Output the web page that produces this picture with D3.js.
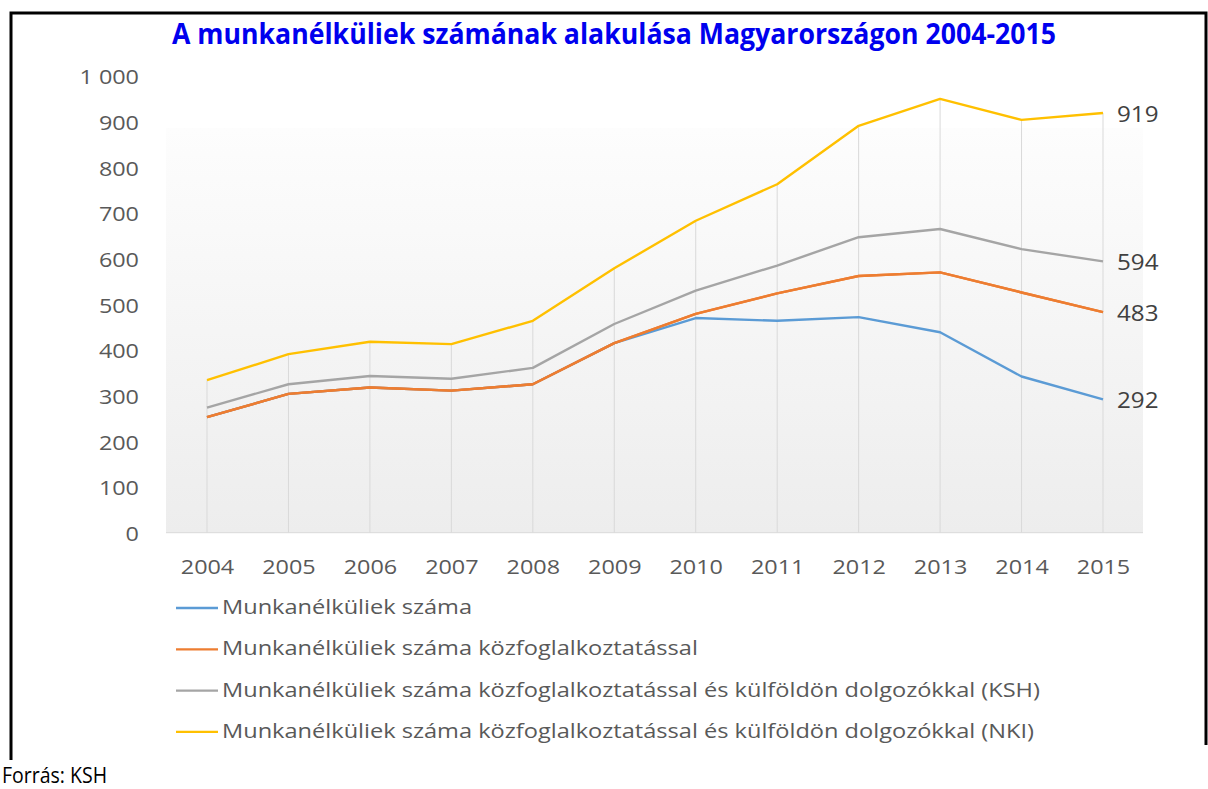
<!DOCTYPE html>
<html lang="hu">
<head>
<meta charset="UTF-8">
<title>A munkanélküliek számának alakulása</title>
<script src="https://d3js.org/d3.v7.min.js"></script>
<style>
    body { margin: 0; background: #fff; }
    text { font-family: "Open Sans", sans-serif; }
    .line { fill: none; stroke-width: 2.4; stroke-linejoin: round; }
</style>
</head>
<body>
<svg width="1208" height="789"></svg>
<script>
const years = [2004, 2005, 2006, 2007, 2008, 2009, 2010, 2011, 2012, 2013, 2014, 2015];
const munkanelkuliek = [253, 304, 318, 311, 325, 415, 470, 464, 472, 439, 342, 292];
const kozfoglalkoztatassal = [253, 304, 318, 311, 325, 415, 479, 524, 562, 570, 526, 483];
const kulfoldonKSH = [274, 325, 343, 337, 361, 457, 530, 585, 647, 665, 621, 594];
const kulfoldonNKI = [334, 391, 418, 413, 464, 579, 683, 763, 891, 950, 904, 919];
const yTicks = [0, 100, 200, 300, 400, 500, 600, 700, 800, 900, 1000];

const seriesNames = [
    "Munkanélküliek száma",
    "Munkanélküliek száma közfoglalkoztatással",
    "Munkanélküliek száma közfoglalkoztatással és külföldön dolgozókkal (KSH)",
    "Munkanélküliek száma közfoglalkoztatással és külföldön dolgozókkal (NKI)"
];
const seriesValues = [munkanelkuliek, kozfoglalkoztatassal, kulfoldonKSH, kulfoldonNKI];
const colors = ["#5b9bd5", "#ed7d31", "#a5a5a5", "#ffc000"];

const svg = d3.select("svg");

// frame
svg.append("path")
    .attr("d", "M11,760 V13 H1206 V745")
    .attr("fill", "none")
    .attr("stroke", "#000")
    .attr("stroke-width", 3);

svg.append("text")
    .attr("x", 614).attr("y", 44)
    .attr("text-anchor", "middle")
    .attr("textLength", 884).attr("lengthAdjust", "spacingAndGlyphs")
    .style("font-size", "28px").style("font-weight", "bold")
    .style("fill", "#0000ee")
    .text("A munkanélküliek számának alakulása Magyarországon 2004-2015");

const x = d3.scalePoint().domain(years).range([207, 1103]);
const y = d3.scaleLinear().domain([0, 1000]).range([532.7, 76]);

// plot background
const grad = svg.append("defs").append("linearGradient")
    .attr("id", "bg").attr("x1", 0).attr("y1", 0).attr("x2", 0).attr("y2", 1);
grad.append("stop").attr("offset", "0%").attr("stop-color", "#fdfdfd");
grad.append("stop").attr("offset", "100%").attr("stop-color", "#ededed");
svg.append("rect")
    .attr("x", 166).attr("y", 128)
    .attr("width", 1143 - 166).attr("height", y(0) - 128)
    .attr("fill", "url(#bg)");

// drop lines
svg.append("g").selectAll("line")
    .data(years)
    .join("line")
    .attr("x1", d => x(d)).attr("x2", d => x(d))
    .attr("y1", (d, i) => y(d3.max(seriesValues, s => s[i])))
    .attr("y2", y(0))
    .attr("stroke", "#d9d9d9").attr("stroke-width", 1);

svg.append("line")
    .attr("x1", 166).attr("x2", 1143)
    .attr("y1", y(0)).attr("y2", y(0))
    .attr("stroke", "#d9d9d9");

// y axis labels
const yAxis = svg.append("g")
    .attr("transform", "translate(139,0)")
    .call(d3.axisLeft(y).tickValues(yTicks).tickSize(0).tickPadding(0)
        .tickFormat(d => d3.format(",")(d).replace(",", " ")));
yAxis.select(".domain").remove();
yAxis.selectAll("text")
    .attr("x", null).attr("dy", null)
    .attr("dominant-baseline", "central")
    .attr("transform", "scale(1.2,1)")
    .style("font-size", "19.5px").style("fill", "#595959");

// x axis labels
const xAxis = svg.append("g")
    .attr("transform", "translate(0,574)")
    .call(d3.axisBottom(x).tickSize(0).tickPadding(0));
xAxis.select(".domain").remove();
xAxis.selectAll("text")
    .attr("y", 0).attr("dy", null).attr("x", 0)
    .attr("transform", "scale(1.2,1)")
    .style("font-size", "19.5px").style("fill", "#595959");

// lines: blue, orange, gray, yellow
const line = d3.line()
    .x((d, i) => x(years[i]))
    .y(d => y(d));

seriesValues.forEach((vals, k) => {
    svg.append("path")
        .datum(vals)
        .attr("class", "line")
        .attr("d", line)
        .style("stroke", colors[k]);
});
// orange drawn again over blue where they coincide
svg.append("path")
    .datum(kozfoglalkoztatassal)
    .attr("class", "line")
    .attr("d", line)
    .style("stroke", colors[1]);

// end labels
const last = years.length - 1;
seriesValues.forEach(vals => {
    svg.append("text")
        .attr("transform", `translate(${x(years[last]) + 14},${y(vals[last])}) scale(1.1,1)`)
        .attr("dominant-baseline", "central")
        .style("font-size", "22px").style("fill", "#404040")
        .text(vals[last]);
});

// legend
const legend = svg.append("g");
seriesNames.forEach((name, k) => {
    const ly = 614 + k * 41.3;
    legend.append("line")
        .attr("x1", 176).attr("x2", 218)
        .attr("y1", ly - 6).attr("y2", ly - 6)
        .attr("stroke", colors[k]).attr("stroke-width", 2.3);
    legend.append("text")
        .attr("transform", `translate(222,${ly}) scale(1.21,1)`)
        .style("font-size", "19.5px").style("fill", "#595959")
        .text(name);
});

svg.append("text")
    .attr("x", 2).attr("y", 783)
    .attr("textLength", 105).attr("lengthAdjust", "spacingAndGlyphs")
    .style("font-size", "22px").style("fill", "#000")
    .text("Forrás: KSH");
</script>
</body>
</html>
